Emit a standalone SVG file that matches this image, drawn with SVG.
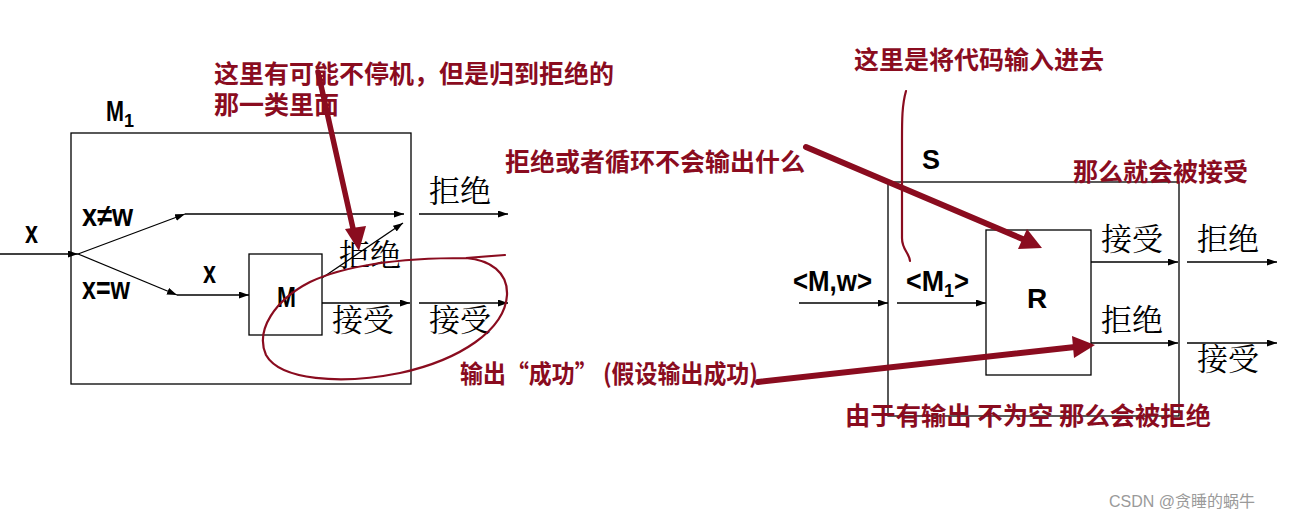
<svg xmlns="http://www.w3.org/2000/svg" width="1295" height="523" viewBox="0 0 1295 523">
<style>
.ln{stroke:#000;stroke-width:1.3;fill:none}
.bx{stroke:#000;stroke-width:1.3;fill:#fff}
.lat{font-family:"Liberation Sans",Arial,sans-serif;font-weight:bold;fill:#000}
.cjk{font-family:"Noto Serif CJK SC","Noto Sans CJK SC",serif;font-size:31px;fill:#000}
.red{font-family:"Noto Sans CJK SC","Noto Sans CJK JP",sans-serif;font-weight:bold;font-size:25px;fill:#8a0c1f}
.rs{stroke:#8a0c1f;fill:none;stroke-linecap:round}
.wm{font-family:"Liberation Sans","Noto Sans CJK SC",sans-serif;font-size:16px;fill:#9a9a9a}
</style>
<defs>
<marker id="ar" markerUnits="userSpaceOnUse" markerWidth="10" markerHeight="8" refX="10" refY="3.5" orient="auto"><path d="M0,0 L10,3.5 L0,7 z" fill="#000"/></marker>
</defs>
<rect width="1295" height="523" fill="#fff"/>

<g id="M1">
<rect class="bx" x="71" y="133" width="340" height="251"/>
<text class="lat" x="106" y="121" font-size="29"><tspan textLength="18" lengthAdjust="spacingAndGlyphs">M</tspan><tspan font-size="18" dy="6">1</tspan></text>
</g>
<g id="Mbox">
<rect class="bx" x="249" y="254" width="73" height="81"/>
<text class="lat" x="277" y="307" font-size="29" textLength="19" lengthAdjust="spacingAndGlyphs">M</text>
</g>
<g id="S">
<rect class="bx" x="888" y="182" width="291" height="234" fill="none"/>
<text class="lat" x="922" y="169" font-size="27">S</text>
</g>
<g id="R">
<rect class="bx" x="986" y="230" width="105" height="145"/>
<text class="lat" x="1027" y="308" font-size="28">R</text>
</g>

<g id="connectors">
<line class="ln" x1="0" y1="254" x2="78" y2="254" marker-end="url(#ar)"/>
<line class="ln" x1="78" y1="254" x2="185" y2="214" marker-end="url(#ar)"/>
<line class="ln" x1="185" y1="214" x2="404" y2="214" marker-end="url(#ar)"/>
<line class="ln" x1="78" y1="254" x2="177" y2="295" marker-end="url(#ar)"/>
<line class="ln" x1="177" y1="295" x2="249" y2="295" marker-end="url(#ar)"/>
<line class="ln" x1="322" y1="278" x2="403" y2="223" marker-end="url(#ar)"/>
<line class="ln" x1="322" y1="303" x2="410" y2="303" marker-end="url(#ar)"/>
<line class="ln" x1="419" y1="214" x2="508" y2="214" marker-end="url(#ar)"/>
<line class="ln" x1="419" y1="303" x2="508" y2="303" marker-end="url(#ar)"/>
<line class="ln" x1="799" y1="303" x2="888" y2="303" marker-end="url(#ar)"/>
<line class="ln" x1="897" y1="303" x2="986" y2="303" marker-end="url(#ar)"/>
<line class="ln" x1="1091" y1="262" x2="1178" y2="262" marker-end="url(#ar)"/>
<line class="ln" x1="1091" y1="343" x2="1178" y2="343" marker-end="url(#ar)"/>
<line class="ln" x1="1187" y1="262" x2="1277" y2="262" marker-end="url(#ar)"/>
<line class="ln" x1="1187" y1="343" x2="1277" y2="343" marker-end="url(#ar)"/>
</g>

<g id="labels">
<text class="lat" x="25" y="243" font-size="31" textLength="13" lengthAdjust="spacingAndGlyphs">x</text>
<text class="lat" x="82" y="226" font-size="31" textLength="51" lengthAdjust="spacingAndGlyphs">x≠w</text>
<text class="lat" x="82" y="299" font-size="31" textLength="48" lengthAdjust="spacingAndGlyphs">x=w</text>
<text class="lat" x="203" y="283" font-size="31" textLength="13" lengthAdjust="spacingAndGlyphs">x</text>
<text class="lat" x="793" y="291" font-size="30" textLength="79" lengthAdjust="spacingAndGlyphs">&lt;M,w&gt;</text>
<text class="lat" x="906" y="291" font-size="30"><tspan textLength="38" lengthAdjust="spacingAndGlyphs">&lt;M</tspan><tspan font-size="18" dy="6">1</tspan><tspan dy="-6" textLength="15" lengthAdjust="spacingAndGlyphs">&gt;</tspan></text>
<text class="cjk" x="429" y="202">拒绝</text>
<text class="cjk" x="339" y="266">拒绝</text>
<text class="cjk" x="332" y="331">接受</text>
<text class="cjk" x="429" y="331">接受</text>
<text class="cjk" x="1101" y="250">接受</text>
<text class="cjk" x="1101" y="331">拒绝</text>
<text class="cjk" x="1197" y="250">拒绝</text>
<text class="cjk" x="1197" y="370">接受</text>
</g>

<g id="annotations">
<text class="red" x="214" y="83">这里有可能不停机，但是归到拒绝的</text>
<text class="red" x="214" y="114">那一类里面</text>
<text class="red" x="854" y="69">这里是将代码输入进去</text>
<text class="red" x="505" y="171">拒绝或者循环不会输出什么</text>
<text class="red" x="1073" y="181">那么就会被接受</text>
<text class="red" x="460" y="383" textLength="298" lengthAdjust="spacingAndGlyphs">输出“成功” (假设输出成功)</text>
<text class="red" x="845" y="425" textLength="366" lengthAdjust="spacingAndGlyphs">由于有输出 不为空 那么会被拒绝</text>

<path class="rs" stroke-width="5.5" d="M318,72 L354,233"/>
<path d="M345,229 L366,226 L359,251 z" fill="#8a0c1f"/>
<path class="rs" stroke-width="6" d="M806,147 L1025,240"/>
<path d="M1018,249 L1027,229 L1042,248 z" fill="#8a0c1f"/>
<path class="rs" stroke-width="6" d="M758,382 L1075,347"/>
<path d="M1072,336 L1074,358 L1095,345 z" fill="#8a0c1f"/>

<path class="rs" stroke-width="2.2" d="M505,255 L466,258 C490,260 508,272 507,295 C505,330 460,360 400,373 C340,385 280,380 266,355 C255,330 275,300 310,282 C350,263 410,258 466,258"/>
<path class="rs" stroke-width="2.2" d="M906,91 C902,105 902,120 902,140 L902,238 C902,250 909,252 910,261"/>
</g>

<text class="wm" x="1109" y="507">CSDN @贪睡的蜗牛</text>
</svg>
